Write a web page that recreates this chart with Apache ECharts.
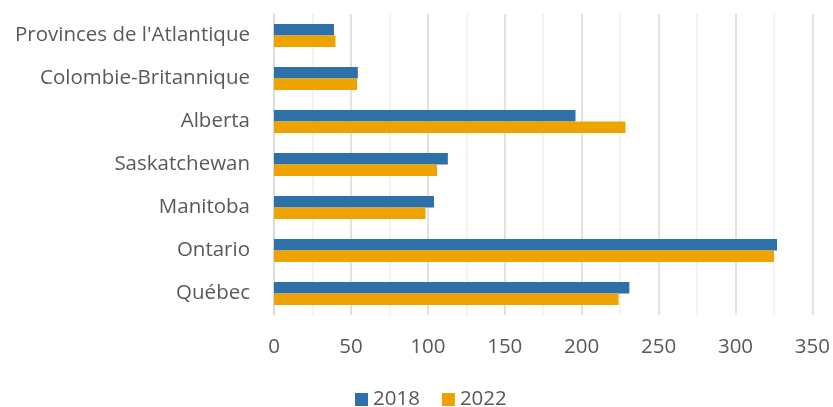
<!DOCTYPE html>
<html>
<head>
<meta charset="utf-8">
<script src="https://cdn.jsdelivr.net/npm/echarts@6/dist/echarts.min.js"></script>
<style>
  html, body { margin: 0; padding: 0; background: #fff; }
  #chart { width: 833px; height: 407px; }
</style>
</head>
<body>
<div id="chart"></div>
<script>
// catégories, de bas en haut
const provinces = ['Québec', 'Ontario', 'Manitoba', 'Saskatchewan', 'Alberta', 'Colombie-Britannique', "Provinces de l'Atlantique"]
const values2018 = [231, 327, 104, 113, 196, 54.5, 39]
const values2022 = [224, 325, 98.5, 106, 228.5, 54, 40]
const seriesNames = ['2018', '2022']

// couleurs
const blue = '#2E70A8'
const orange = '#EEA300'
const textColor = '#595959'
const gridColor = '#D9D9D9'
const minorGridColor = '#F0F0F0'
const fontFamily = '"Open Sans", "Noto Sans", sans-serif'
const fontSize = 20.5

const chart = echarts.init(document.getElementById('chart'))
chart.setOption({
  animation: false,
  grid: {
    left: 274,
    right: 18,
    top: 14,
    bottom: 92
  },
  legend: {
    bottom: -8,
    left: 350,
    itemWidth: 13,
    itemHeight: 13,
    itemGap: 22,
    icon: 'rect',
    textStyle: { color: textColor, fontSize: fontSize, fontFamily: fontFamily },
    data: seriesNames
  },
  xAxis: {
    type: 'value',
    min: 0,
    max: 350,
    interval: 50,
    axisLine: { show: false },
    axisTick: { show: false },
    axisLabel: { color: textColor, fontSize: fontSize, fontFamily: fontFamily, margin: 22 },
    splitLine: { lineStyle: { color: gridColor, width: 1.5 } },
    minorTick: { show: false, splitNumber: 2 },
    minorSplitLine: { show: true, lineStyle: { color: minorGridColor, width: 1.5 } }
  },
  yAxis: {
    type: 'category',
    data: provinces,
    axisLine: { lineStyle: { color: gridColor, width: 1.5 } },
    axisTick: { show: false },
    axisLabel: { color: textColor, fontSize: fontSize, fontFamily: fontFamily, margin: 24 }
  },
  series: [
    {
      name: seriesNames[0],
      type: 'bar',
      data: values2018,
      itemStyle: { color: blue },
      barWidth: 11.5,
      barGap: '0%'
    },
    {
      name: seriesNames[1],
      type: 'bar',
      data: values2022,
      itemStyle: { color: orange },
      barWidth: 11.5,
      barGap: '0%'
    }
  ]
})
</script>
</body>
</html>
